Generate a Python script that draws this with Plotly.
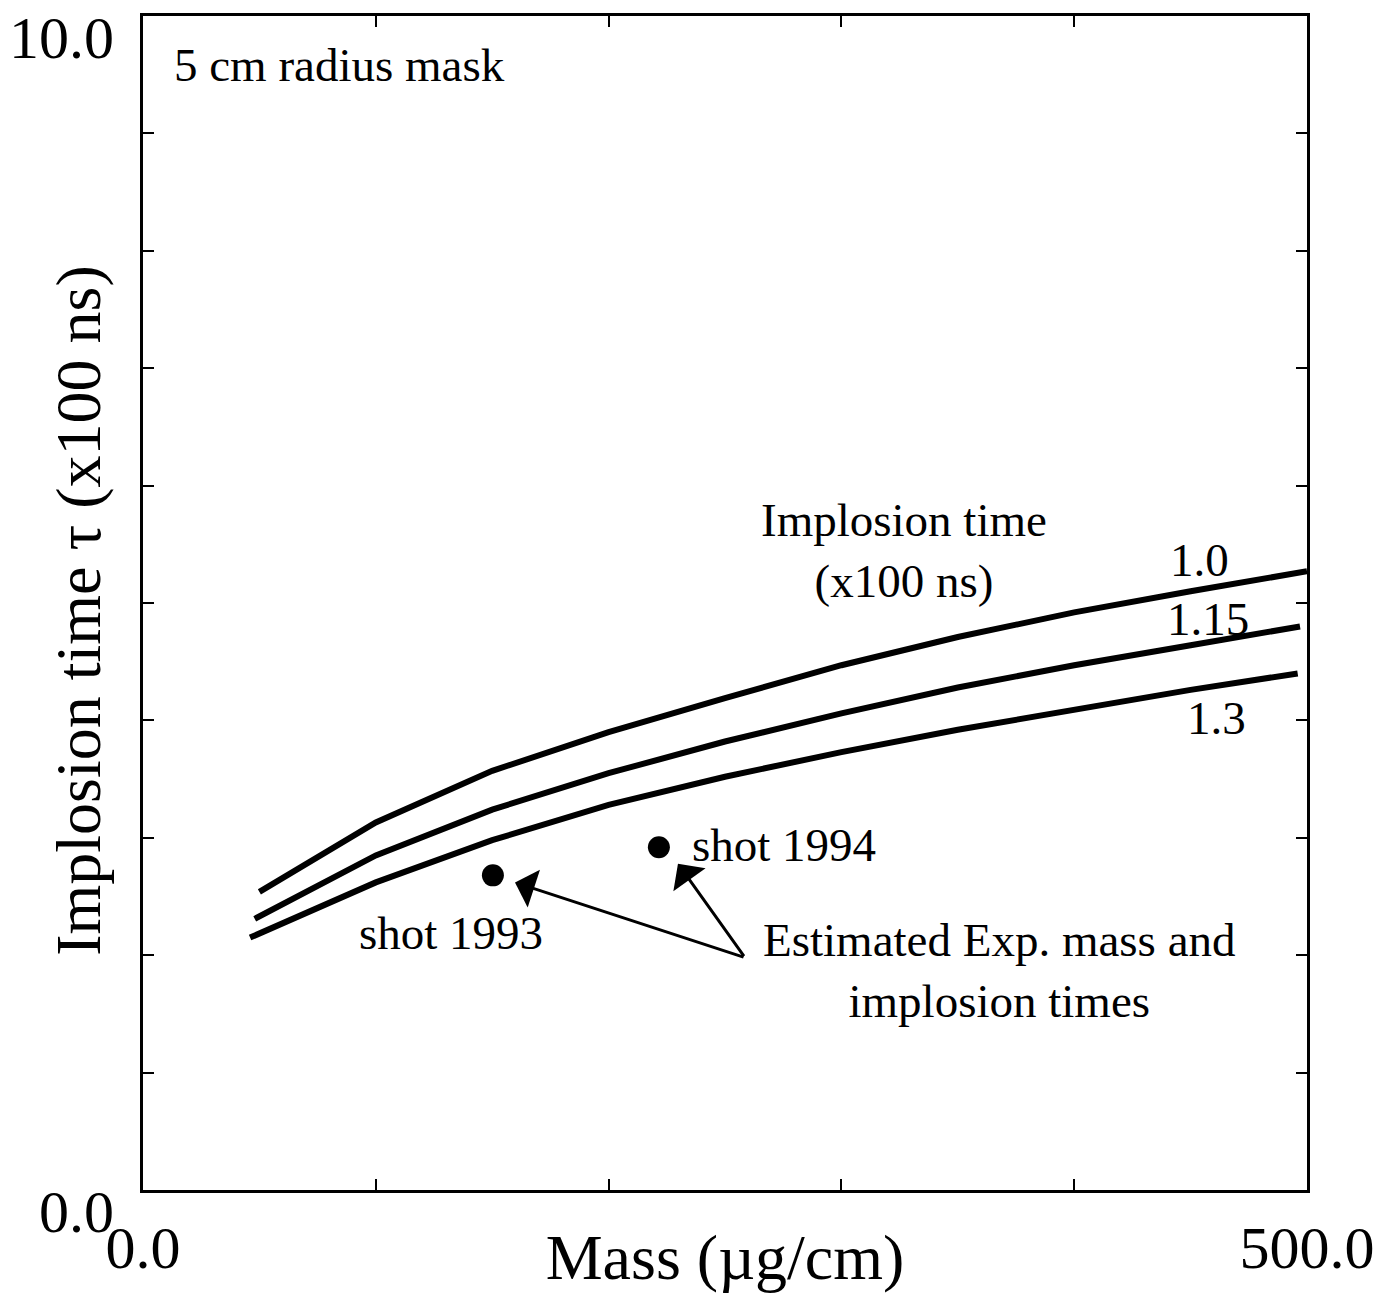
import plotly.graph_objects as go

# ---- data ----
mass_10 = [50, 100, 150, 200, 250, 300, 350, 400, 450, 500]
tau_10 = [2.54, 3.13, 3.57, 3.90, 4.19, 4.47, 4.71, 4.92, 5.10, 5.27]

mass_115 = [48, 100, 150, 200, 250, 300, 350, 400, 450, 497]
tau_115 = [2.31, 2.85, 3.24, 3.55, 3.82, 4.06, 4.28, 4.47, 4.64, 4.80]

mass_13 = [46, 100, 150, 200, 250, 300, 350, 400, 450, 496]
tau_13 = [2.15, 2.62, 2.98, 3.28, 3.52, 3.73, 3.92, 4.09, 4.26, 4.40]

curve_labels = ["1.0", "1.15", "1.3"]

shot_names = ["shot 1993", "shot 1994"]
shot_mass = [150.3, 221.6]
shot_tau = [2.68, 2.92]

x_tickvals = [0, 100, 200, 300, 400, 500]
x_ticktext = ["0.0", "", "", "", "", "500.0"]
y_tickvals = [0, 1, 2, 3, 4, 5, 6, 7, 8, 9, 10]
y_ticktext = ["0.0"] + [""] * 9 + ["10.0"]

FONT = "Liberation Serif, Times New Roman, serif"
TICK = 60
BIG = 64
MID = 47

fig = go.Figure()
for mx, ty, name in [(mass_10, tau_10, curve_labels[0]),
                     (mass_115, tau_115, curve_labels[1]),
                     (mass_13, tau_13, curve_labels[2])]:
    fig.add_trace(go.Scatter(x=mx, y=ty, mode="lines", name=name,
                             line=dict(color="black", width=6),
                             showlegend=False))

fig.add_trace(go.Scatter(x=shot_mass, y=shot_tau, mode="markers",
                         marker=dict(color="black", size=22),
                         showlegend=False, name="shots"))

anns = []
def txt(x, y, t, xanchor="center", size=MID):
    anns.append(dict(x=x, y=y, xref="x", yref="y", text=t, showarrow=False,
                     xanchor=xanchor, yanchor="middle",
                     font=dict(family=FONT, size=size, color="black")))

txt(12.5, 9.58, "5 cm radius mask", xanchor="left")
txt(327, 5.45, "Implosion time<br>(x100 ns)")
txt(454, 5.37, curve_labels[0])
txt(457.5, 4.86, curve_labels[1])
txt(461, 4.02, curve_labels[2])
txt(235, 2.94, shot_names[1], xanchor="left")
txt(132.3, 2.19, shot_names[0])
txt(368, 1.87, "Estimated Exp. mass and<br>implosion times")

# y-axis title (placed as rotated text to match the reference position)
anns.append(dict(x=-0.056, y=0.494, xref="paper", yref="paper",
                 text="Implosion time τ (x100 ns)", textangle=-90,
                 showarrow=False, xanchor="center", yanchor="middle",
                 font=dict(family=FONT, size=BIG, color="black")))

tail_m, tail_t = 258.6, 1.98
for tip_m, tip_t in [(159.8, 2.62), (229.8, 2.78)]:
    anns.append(dict(x=tip_m, y=tip_t, ax=tail_m, ay=tail_t,
                     xref="x", yref="y", axref="x", ayref="y",
                     text="", showarrow=True, arrowhead=1, arrowsize=2.2,
                     arrowwidth=3, arrowcolor="black", standoff=0))

axis_common = dict(showline=True, linecolor="black", linewidth=3,
                   mirror="ticks", ticks="inside", ticklen=11, tickwidth=2,
                   tickcolor="black", showgrid=False, zeroline=False,
                   automargin=False,
                   tickfont=dict(family=FONT, size=TICK, color="black"))

fig.update_layout(
    width=1390, height=1293,
    margin=dict(l=143, r=83, t=16, b=103),
    plot_bgcolor="white", paper_bgcolor="white",
    annotations=anns,
    xaxis=dict(range=[0, 500], tickvals=x_tickvals, ticktext=x_ticktext,
               ticklabelstandoff=3,
               title=dict(text="Mass (µg/cm)", font=dict(family=FONT, size=BIG, color="black"),
                          standoff=0),
               **axis_common),
    yaxis=dict(range=[0, 10], tickvals=y_tickvals, ticktext=y_ticktext,
               ticklabelstandoff=14, ticklabelshift=21,
               **axis_common),
)

fig.write_html("out.html")
